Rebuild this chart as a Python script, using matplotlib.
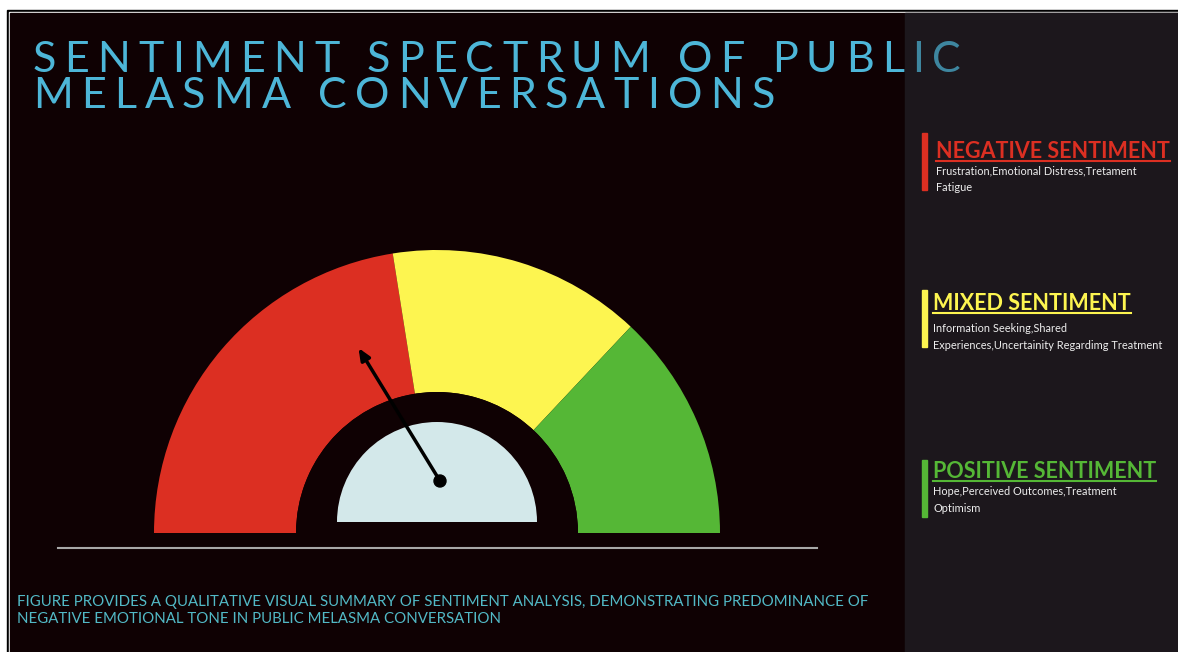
import numpy as np
import matplotlib
matplotlib.use("Agg")
import matplotlib.pyplot as plt
from matplotlib.patches import Wedge, Rectangle, Circle
from matplotlib.font_manager import FontProperties

# sentiment shares around the dial, left (negative) to right (positive)
segment_names = ["Negative", "Mixed", "Positive"]
segment_shares = [45, 29, 26]
segment_colors = ["#dc2f22", "#fdf550", "#55b736"]

# where the needle points, as a share of the dial from the left end
needle_share = 32.5

headings = ["NEGATIVE SENTIMENT", "MIXED SENTIMENT", "POSITIVE SENTIMENT"]
descriptions = [
    ["Frustration,Emotional Distress,Tretament", "Fatigue"],
    ["Information Seeking,Shared", "Experiences,Uncertainity Regardimg Treatment"],
    ["Hope,Perceived Outcomes,Treatment", "Optimism"],
]

title_lines = ["SENTIMENT SPECTRUM OF PUBLIC", "MELASMA CONVERSATIONS"]
caption = ("FIGURE PROVIDES A QUALITATIVE VISUAL SUMMARY OF SENTIMENT ANALYSIS, "
           "DEMONSTRATING PREDOMINANCE OF\nNEGATIVE EMOTIONAL TONE IN PUBLIC MELASMA CONVERSATION")

W, H = 1178, 652
BG = "#0f0103"
PANEL = "#1c171c"
TITLE_COLOR = "#4db6d8"

fig = plt.figure(figsize=(W / 100, H / 100), dpi=100, facecolor="white")
ax = fig.add_axes([0, 0, 1, 1])
ax.set_xlim(0, W)
ax.set_ylim(0, H)
ax.axis("off")

def top(y):
    # convert a distance from the top edge into axis y
    return H - y

# frame: black rule, thin white gap, dark canvas
ax.add_patch(Rectangle((7, -5), W, top(10) + 5, color="black", zorder=0))
ax.add_patch(Rectangle((9, -5), W, top(12) + 5, color="white", zorder=0))
ax.add_patch(Rectangle((10, -5), W, top(13) + 5, color=BG, zorder=0))
ax.add_patch(Rectangle((905, -5), W, top(13) + 5, color=PANEL, zorder=0.5))

renderer = fig.canvas.get_renderer()

def spaced_text(x, y, s, prop, tracking, **kw):
    for i, ch in enumerate(s):
        if ch == " ":
            continue
        w = renderer.get_text_width_height_descent(s[:i], prop, ismath=False)[0] if i else 0
        ax.text(x + w + i * tracking, y, ch, fontproperties=prop, va="baseline",
                ha="left", **kw)

title_font = FontProperties(family="Lato", weight="normal", size=31)
spaced_text(33, top(72), title_lines[0], title_font, 8.2, color=TITLE_COLOR, zorder=2)
spaced_text(33, top(108), title_lines[1], title_font, 8.3, color=TITLE_COLOR, zorder=2)
# the side panel sits partly over the title
ax.add_patch(Rectangle((905, -5), W, top(13) + 5, color=PANEL, alpha=0.3, zorder=3))

# gauge
cx, cy = 437, top(533)
r_out, r_in = 283, 141
theta = 180.0
for share, color in zip(segment_shares, segment_colors):
    span = 180.0 * share / sum(segment_shares)
    ax.add_patch(Wedge((cx, cy), r_out, theta - span, theta, width=r_out - r_in,
                       facecolor=color, edgecolor="none", zorder=1))
    theta -= span
ax.add_patch(Wedge((cx, cy), r_in, 0, 180, facecolor=BG, edgecolor="none", zorder=1.2))
ax.add_patch(Wedge((cx, cy + 11), 100, 0, 180, facecolor="#d3e8ea", edgecolor="none", zorder=1.3))

# needle
px, py = 440, top(481)
ang = np.radians(180 - 180 * needle_share / 100)
length = 156
ax.annotate("", xy=(px + length * np.cos(ang), py + length * np.sin(ang)), xytext=(px, py),
            arrowprops=dict(arrowstyle="-|>,head_length=0.7,head_width=0.3", color="black",
                            lw=2.5, shrinkA=0, shrinkB=0), zorder=2)
ax.add_patch(Circle((px, py), 6, color="black", zorder=2.1))

ax.plot([58, 817], [top(548), top(548)], color="#a8a8a8", lw=1.5, zorder=1)

# side legend
bar_tops = [133, 290, 460]
head_y = [158, 310, 478]
head_x = [936, 933, 933]
desc_y = [[174, 191], [332, 349], [495, 512]]
head_font = FontProperties(family="Lato", weight="bold", size=15.5)
desc_font = FontProperties(family="Lato", size=7.9)
for i, name in enumerate(segment_names):
    c = segment_colors[i]
    ax.add_patch(Rectangle((922, top(bar_tops[i] + 57)), 5, 57, color=c, zorder=4))
    ax.text(head_x[i], top(head_y[i]), headings[i], fontproperties=head_font, color=c,
            va="baseline", ha="left", zorder=4)
    tw = renderer.get_text_width_height_descent(headings[i], head_font, ismath=False)[0]
    ax.plot([head_x[i], head_x[i] + tw], [top(head_y[i] + 3)] * 2, color=c, lw=1.5, zorder=4)
    for line, y in zip(descriptions[i], desc_y[i]):
        ax.text(head_x[i], top(y), line, fontproperties=desc_font, color="#eeeeee",
                va="baseline", ha="left", zorder=4)

# caption: baseline of the last line
ax.text(17, top(623), caption, fontproperties=FontProperties(family="Lato", size=10.8),
        color="#52b9c6", va="baseline", ha="left", linespacing=1.25, zorder=2)

fig.savefig("out.png", dpi=100, facecolor="white")
